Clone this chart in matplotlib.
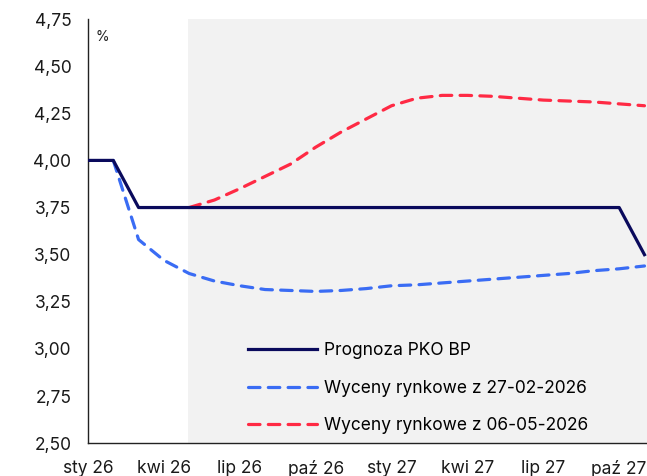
import matplotlib.pyplot as plt
import numpy as np

plt.rcParams['font.family'] = ['Inter', 'DejaVu Sans']

miesiace = ['sty', 'lut', 'mar', 'kwi', 'maj', 'cze', 'lip', 'sie', 'wrz', 'paź', 'lis', 'gru']
okresy = [f'{m} {r}' for r in ('26', '27') for m in miesiace][:23]

prognoza_pko = [4.00, 4.00, 3.75, 3.75, 3.75, 3.75, 3.75, 3.75, 3.75, 3.75, 3.75, 3.75,
                3.75, 3.75, 3.75, 3.75, 3.75, 3.75, 3.75, 3.75, 3.75, 3.75, 3.50]
wyceny_0227 = [np.nan, 4.00, 3.58, 3.47, 3.40, 3.36, 3.335, 3.315, 3.31, 3.305, 3.31, 3.32,
               3.335, 3.34, 3.35, 3.36, 3.37, 3.38, 3.39, 3.40, 3.415, 3.425, 3.44]
wyceny_0605 = [np.nan, np.nan, np.nan, np.nan, 3.75, 3.79, 3.85, 3.915, 3.98, 4.07, 4.15, 4.22,
               4.29, 4.33, 4.345, 4.345, 4.34, 4.33, 4.32, 4.315, 4.31, 4.30, 4.29]

x = np.arange(len(okresy))

fig = plt.figure(figsize=(6.47, 4.76), dpi=100)
ax = fig.add_axes([0.136, 0.069, 0.864, 0.891])

# okres prognozy - szare tło
ax.axvspan(3.95, 30, color='#f2f2f2', lw=0, zorder=0)

ax.plot(x, prognoza_pko, color='#0a0a5c', lw=2.3, label='Prognoza PKO BP', zorder=3)
ax.plot(x, wyceny_0227, color='#3a6cf4', lw=2.3, ls=(0, (3.6, 2.6)),
        dash_capstyle='round', label='Wyceny rynkowe z 27-02-2026', zorder=2)
ax.plot(x, wyceny_0605, color='#ff2a44', lw=2.3, ls=(0, (3.6, 2.6)),
        dash_capstyle='round', label='Wyceny rynkowe z 06-05-2026', zorder=2)

ax.set_xlim(0, 22.1)
ax.set_ylim(2.5, 4.75)
ax.set_yticks(np.arange(2.5, 4.76, 0.25))
ax.set_yticklabels([f'{v:.2f}'.replace('.', ',') for v in np.arange(2.5, 4.76, 0.25)])
ax.set_xticks(x[::3])
ax.set_xticklabels(okresy[::3])
ax.tick_params(axis='both', length=0, labelsize=12.5, colors='#1a1a1a')
ax.tick_params(axis='y', pad=12)
ax.tick_params(axis='x', pad=12)

for s in ('top', 'right'):
    ax.spines[s].set_visible(False)
for s in ('left', 'bottom'):
    ax.spines[s].set_color('#222222')
    ax.spines[s].set_linewidth(1.0)

ax.text(0.013, 0.975, '%', transform=ax.transAxes, fontsize=10, va='top', ha='left', color='#222222')

ax.legend(loc='upper left', bbox_to_anchor=(0.286, 0.238), frameon=False, fontsize=12.5,
          handlelength=4.0, handletextpad=0.4, labelspacing=1.18, borderpad=0,
          borderaxespad=0)

fig.savefig('out.png', dpi=100)
